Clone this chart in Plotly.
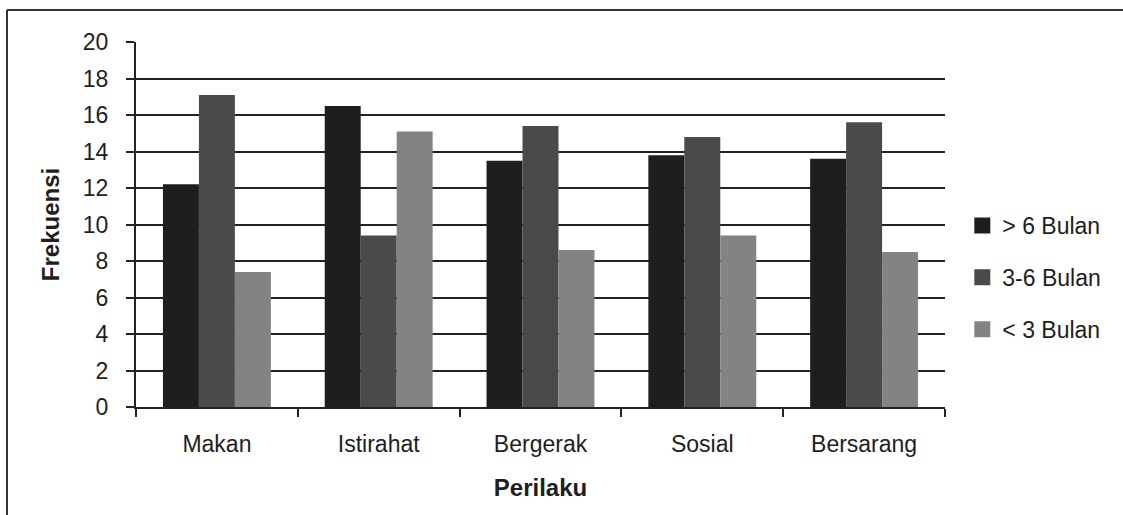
import plotly.graph_objects as go

categories = ["Makan", "Istirahat", "Bergerak", "Sosial", "Bersarang"]
series_names = ["> 6 Bulan", "3-6 Bulan", "< 3 Bulan"]
gt6 = [12.2, 16.5, 13.5, 13.8, 13.6]
m3_6 = [17.1, 9.4, 15.4, 14.8, 15.6]
lt3 = [7.4, 15.1, 8.6, 9.4, 8.5]
y_ticks = [0, 2, 4, 6, 8, 10, 12, 14, 16, 18, 20]

colors = ["#1e1e1e", "#4a4a4a", "#838383"]
values = [gt6, m3_6, lt3]
FONT = "Liberation Sans, Arial, sans-serif"
TXT = "#1e1e1e"

fig = go.Figure()
for name, vals, c in zip(series_names, values, colors):
    fig.add_trace(go.Bar(x=categories, y=vals, name=name, marker=dict(color=c, line=dict(width=0)),
                         showlegend=False))
# legend entries (square markers)
for i, (name, c) in enumerate(zip(series_names, colors)):
    fig.add_trace(go.Scatter(x=[None], y=[None], mode="markers", name=name,
                             marker=dict(symbol="square", size=17, color=c),
                             legendgroup=f"g{i}", showlegend=True))

fig.update_layout(
    width=1123, height=515,
    margin=dict(l=136, r=178, t=42, b=108),
    paper_bgcolor="white", plot_bgcolor="white",
    barmode="group", bargap=0.333, bargroupgap=0,
    font=dict(family=FONT, size=23, color=TXT),
    legend=dict(x=1.0214, y=0.355, xanchor="left", yanchor="middle",
                font=dict(size=23, color=TXT), tracegroupgap=19,
                itemwidth=30, bgcolor="rgba(0,0,0,0)"),
    xaxis=dict(
        showline=True, linecolor="#222", linewidth=2,
        ticks="outside", ticklen=8, tickwidth=2, tickcolor="#222",
        tickson="boundaries", showgrid=False,
        tickfont=dict(size=23, color=TXT), ticklabelstandoff=15,
        title=dict(text="<b>Perilaku</b>", font=dict(size=24, color=TXT), standoff=24),
    ),
    yaxis=dict(
        range=[0, 20], tickvals=y_ticks, showline=True, linecolor="#222", linewidth=2,
        ticks="outside", ticklen=8, tickwidth=2, tickcolor="#222",
        showgrid=True, gridcolor="#222", gridwidth=2, zeroline=False,
        tickfont=dict(size=23, color=TXT), ticklabelstandoff=13,
        title=dict(text="<b>Frekuensi</b>", font=dict(size=24, color=TXT), standoff=16),
    ),
    shapes=[
        dict(type="line", xref="paper", yref="paper", x0=(7 - 136) / 809, x1=(7 - 136) / 809,
             y0=-0.4, y1=(407 - 10) / 365, line=dict(color="#333", width=2)),
        dict(type="line", xref="paper", yref="paper", x0=(7 - 136) / 809, x1=1.3,
             y0=(407 - 10) / 365, y1=(407 - 10) / 365, line=dict(color="#333", width=2)),
    ],
)

fig.write_html("out.html")
